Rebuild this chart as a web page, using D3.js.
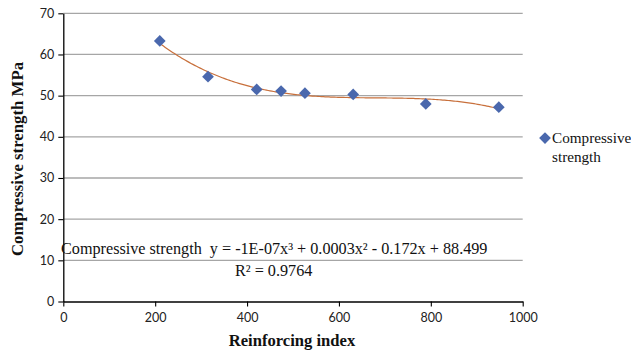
<!DOCTYPE html>
<html><head><meta charset="utf-8">
<script src="https://cdn.jsdelivr.net/npm/d3@7"></script>
<style>html,body{margin:0;padding:0;background:#fff;}svg{display:block;}</style>
</head><body>
<script>
const reinforcingIndex = [210, 315, 421, 474, 526, 631, 789, 948];
const compressiveStrength = [63.3, 54.6, 51.5, 51.1, 50.6, 50.3, 48.0, 47.2];
const xTicks = [0, 200, 400, 600, 800, 1000];
const yTicks = [0, 10, 20, 30, 40, 50, 60, 70];
const seriesName = "Compressive strength";
const equationText = "Compressive strength\u00A0 y = -1E-07x\u00B3 + 0.0003x\u00B2 - 0.172x + 88.499";
const r2Text = "R\u00B2 = 0.9764";

const W = 631, H = 356;
const svg = d3.select("body").append("svg").attr("width", W).attr("height", H);
const x = d3.scaleLinear().domain([0, 1000]).range([63.3, 522.7]);
const y = d3.scaleLinear().domain([0, 70]).range([301.5, 13.3]);
const serif = "'Liberation Serif', 'Times New Roman', serif";

// gridlines
svg.append("g").selectAll("line").data(yTicks.filter(d => d > 0)).join("line")
  .attr("x1", x(0)).attr("x2", x(1000))
  .attr("y1", d => y(d)).attr("y2", d => y(d))
  .attr("stroke", "#a6a6a6").attr("stroke-width", 1.3);

// axes
const xAxis = svg.append("g").attr("transform", `translate(0,${y(0)})`)
  .call(d3.axisBottom(x).tickValues(xTicks).tickFormat(d3.format("d")).tickSize(5).tickPadding(4).tickSizeOuter(0));
const yAxis = svg.append("g").attr("transform", `translate(${x(0)},0)`)
  .call(d3.axisLeft(y).tickValues(yTicks).tickFormat(d3.format("d")).tickSize(5).tickPadding(4).tickSizeOuter(0));
[xAxis, yAxis].forEach(g => {
  g.select(".domain").attr("stroke", "#000").attr("stroke-width", 1.3);
  g.selectAll(".tick line").attr("stroke", "#000").attr("stroke-width", 1.1);
  g.selectAll(".tick text").attr("font-family", "Lato, 'Open Sans', sans-serif")
    .attr("font-size", 12.5).attr("fill", "#222");
});
xAxis.selectAll(".tick text").attr("dy", "0.9em");

// cubic least-squares fit
function polyfit(xs, ys, deg) {
  const s = 1000;
  const n = deg + 1;
  const A = Array.from({length: n}, () => new Array(n + 1).fill(0));
  xs.forEach((xv, i) => {
    const t = xv / s;
    for (let r = 0; r < n; r++) {
      for (let c = 0; c < n; c++) A[r][c] += Math.pow(t, r + c);
      A[r][n] += ys[i] * Math.pow(t, r);
    }
  });
  for (let i = 0; i < n; i++) {
    let p = i;
    for (let k = i + 1; k < n; k++) if (Math.abs(A[k][i]) > Math.abs(A[p][i])) p = k;
    [A[i], A[p]] = [A[p], A[i]];
    for (let k = i + 1; k < n; k++) {
      const f = A[k][i] / A[i][i];
      for (let c = i; c <= n; c++) A[k][c] -= f * A[i][c];
    }
  }
  const coef = new Array(n).fill(0);
  for (let i = n - 1; i >= 0; i--) {
    let v = A[i][n];
    for (let c = i + 1; c < n; c++) v -= A[i][c] * coef[c];
    coef[i] = v / A[i][i];
  }
  return xv => coef.reduce((acc, c, k) => acc + c * Math.pow(xv / s, k), 0);
}
const fit = polyfit(reinforcingIndex, compressiveStrength, 3);
const xmin = d3.min(reinforcingIndex), xmax = d3.max(reinforcingIndex);
const curve = d3.range(xmin, xmax, 4).concat([xmax]).map(v => [v, fit(v)]);
svg.append("path").datum(curve)
  .attr("d", d3.line().x(d => x(d[0])).y(d => y(d[1])))
  .attr("fill", "none").attr("stroke", "#c8703c").attr("stroke-width", 1.2);

// points
const diamond = d3.symbol().type(d3.symbolDiamond2).size(88);
const pts = reinforcingIndex.map((v, i) => [v, compressiveStrength[i]]);
svg.append("g").selectAll("path").data(pts).join("path")
  .attr("d", diamond)
  .attr("transform", d => `translate(${x(d[0])},${y(d[1])})`)
  .attr("fill", "#4a68ad");

// equation
svg.append("text").attr("x", 61).attr("y", 254)
  .attr("font-family", serif).attr("font-size", 16.2)
  .attr("fill", "#111").text(equationText);
svg.append("text").attr("x", 235).attr("y", 275.5)
  .attr("font-family", serif).attr("font-size", 16.2)
  .attr("fill", "#111").text(r2Text);

// axis titles
svg.append("text").attr("x", 292).attr("y", 346).attr("text-anchor", "middle")
  .attr("font-family", serif).attr("font-size", 16.6)
  .attr("font-weight", "bold").attr("fill", "#111").text("Reinforcing index");
svg.append("text").attr("transform", `translate(23,159) rotate(-90)`).attr("text-anchor", "middle")
  .attr("font-family", serif).attr("font-size", 16.8)
  .attr("font-weight", "bold").attr("fill", "#111").text("Compressive strength MPa");

// legend
const lg = svg.append("g");
lg.append("path").attr("d", diamond).attr("transform", "translate(545,138)").attr("fill", "#4a68ad");
const lt = lg.append("text").attr("font-family", serif)
  .attr("font-size", 15.2).attr("fill", "#111");
const words = seriesName.split(" ");
lt.append("tspan").attr("x", 552).attr("y", 143).text(words[0]);
lt.append("tspan").attr("x", 552).attr("y", 162).text(words.slice(1).join(" "));
</script>
</body></html>
